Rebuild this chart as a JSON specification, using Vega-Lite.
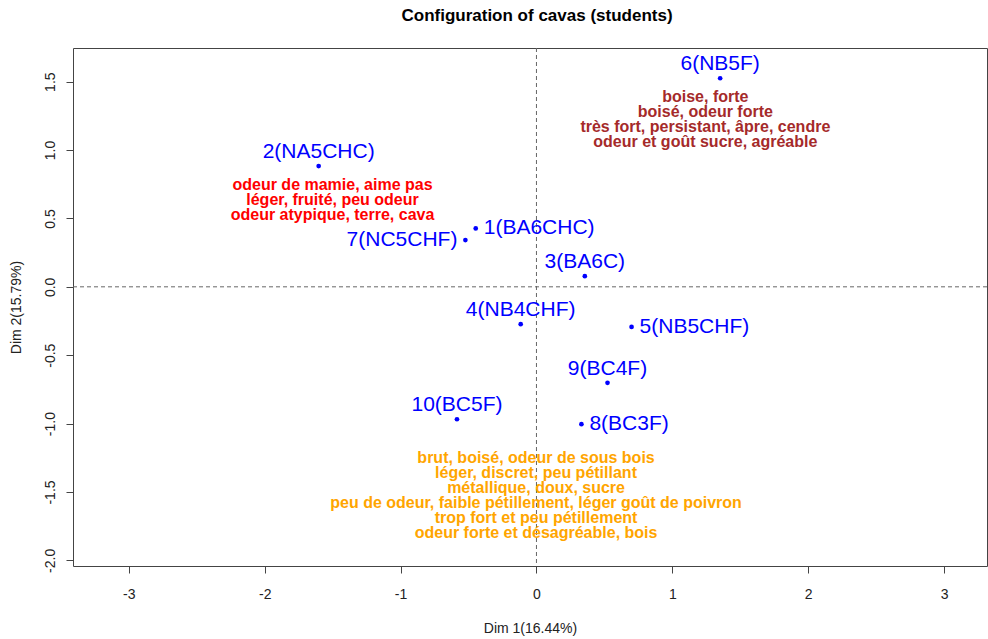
{
  "$schema": "https://vega.github.io/schema/vega-lite/v6.json",
  "width": 914,
  "height": 518,
  "autosize": {"type": "none"},
  "padding": {"left": 73, "top": 48, "right": 1, "bottom": 73},
  "background": "white",
  "title": {
    "text": "Configuration of cavas (students)",
    "fontSize": 17,
    "fontWeight": "bold",
    "font": "Liberation Sans",
    "color": "#000000",
    "anchor": "middle",
    "dx": 7,
    "offset": 23
  },
  "datasets": {
    "points": [
      {"x": -0.447, "y": 0.427, "label": "1(BA6CHC)", "pos": "right"},
      {"x": -1.603, "y": 0.883, "label": "2(NA5CHC)", "pos": "above"},
      {"x": 0.356, "y": 0.078, "label": "3(BA6C)", "pos": "above"},
      {"x": -0.116, "y": -0.273, "label": "4(NB4CHF)", "pos": "above"},
      {"x": 0.700, "y": -0.293, "label": "5(NB5CHF)", "pos": "right"},
      {"x": 1.352, "y": 1.525, "label": "6(NB5F)", "pos": "above"},
      {"x": -0.523, "y": 0.342, "label": "7(NC5CHF)", "pos": "left"},
      {"x": 0.331, "y": -1.004, "label": "8(BC3F)", "pos": "right"},
      {"x": 0.523, "y": -0.702, "label": "9(BC4F)", "pos": "above"},
      {"x": -0.585, "y": -0.968, "label": "10(BC5F)", "pos": "above"}
    ],
    "notes": [
      {"x": -1.501, "y": 0.744, "grp": "red", "text": "odeur de mamie, aime pas\nléger, fruité, peu odeur\nodeur atypique, terre, cava"},
      {"x": 1.243, "y": 1.385, "grp": "brown", "text": "boise, forte\nboisé, odeur forte\ntrès fort, persistant, âpre, cendre\nodeur et goût sucre, agréable"},
      {"x": -0.003, "y": -1.255, "grp": "orange", "text": "brut, boisé, odeur de sous bois\nléger, discret, peu pétillant\nmétallique, doux, sucre\npeu de odeur, faible pétillement, léger goût de poivron\ntrop fort et peu pétillement\nodeur forte et désagréable, bois"}
    ],
    "vzero": [{"x": 0}],
    "hzero": [{"y": 0}]
  },
  "layer": [
    {
      "data": {"name": "points"},
      "mark": {"type": "point", "filled": true, "size": 22, "color": "#0000FF", "opacity": 1},
      "encoding": {
        "x": {
          "field": "x", "type": "quantitative",
          "scale": {"domain": [-3.411, 3.316], "nice": false, "zero": false},
          "axis": {
            "title": "Dim 1(16.44%)",
            "values": [-3, -2, -1, 0, 1, 2, 3],
            "format": "d",
            "labelExpr": "replace(datum.label, '\u2212', '-')",
            "labelPadding": 14,
            "titlePadding": 20,
            "labelFlush": false,
            "labelOverlap": false
          }
        },
        "y": {
          "field": "y", "type": "quantitative",
          "scale": {"domain": [-2.041, 1.746], "nice": false, "zero": false},
          "axis": {
            "title": "Dim 2(15.79%)",
            "values": [-2, -1.5, -1, -0.5, 0, 0.5, 1, 1.5],
            "format": ".1f",
            "labelExpr": "replace(datum.label, '\u2212', '-')",
            "labelAngle": 270,
            "labelAlign": "center",
            "labelBaseline": "bottom",
            "labelPadding": 9,
            "titlePadding": 20,
            "labelFlush": false,
            "labelOverlap": false
          }
        }
      }
    },
    {
      "data": {"name": "vzero"},
      "mark": {"type": "rule", "color": "#666666", "strokeDash": [4, 3], "strokeWidth": 1},
      "encoding": {
        "x": {"field": "x", "type": "quantitative", "scale": {"domain": [-3.411, 3.316], "nice": false, "zero": false}}
      }
    },
    {
      "data": {"name": "hzero"},
      "mark": {"type": "rule", "color": "#666666", "strokeDash": [4, 3], "strokeWidth": 1},
      "encoding": {
        "y": {"field": "y", "type": "quantitative", "scale": {"domain": [-2.041, 1.746], "nice": false, "zero": false}}
      }
    },
    {
      "data": {"name": "points"},
      "transform": [{"filter": "datum.pos === 'above'"}],
      "mark": {"type": "text", "fontSize": 21, "font": "Liberation Sans", "color": "#0000FF", "align": "center", "baseline": "middle", "dy": -14},
      "encoding": {
        "x": {"field": "x", "type": "quantitative"},
        "y": {"field": "y", "type": "quantitative"},
        "text": {"field": "label", "type": "nominal"}
      }
    },
    {
      "data": {"name": "points"},
      "transform": [{"filter": "datum.pos === 'right'"}],
      "mark": {"type": "text", "fontSize": 21, "font": "Liberation Sans", "color": "#0000FF", "align": "left", "baseline": "middle", "dx": 8},
      "encoding": {
        "x": {"field": "x", "type": "quantitative"},
        "y": {"field": "y", "type": "quantitative"},
        "text": {"field": "label", "type": "nominal"}
      }
    },
    {
      "data": {"name": "points"},
      "transform": [{"filter": "datum.pos === 'left'"}],
      "mark": {"type": "text", "fontSize": 21, "font": "Liberation Sans", "color": "#0000FF", "align": "right", "baseline": "middle", "dx": -8},
      "encoding": {
        "x": {"field": "x", "type": "quantitative"},
        "y": {"field": "y", "type": "quantitative"},
        "text": {"field": "label", "type": "nominal"}
      }
    },
    {
      "data": {"name": "notes"},
      "mark": {"type": "text", "fontSize": 16, "fontWeight": "bold", "font": "Liberation Sans", "align": "center", "baseline": "middle", "lineBreak": "\n", "lineHeight": 15},
      "encoding": {
        "x": {"field": "x", "type": "quantitative"},
        "y": {"field": "y", "type": "quantitative"},
        "text": {"field": "text", "type": "nominal"},
        "color": {
          "field": "grp", "type": "nominal",
          "scale": {"domain": ["red", "brown", "orange"], "range": ["#FF0000", "#A52A2A", "#FFA500"]},
          "legend": null
        }
      }
    }
  ],
  "config": {
    "font": "Liberation Sans",
    "view": {"stroke": "#444444", "strokeWidth": 1},
    "axis": {
      "grid": false,
      "domain": false,
      "ticks": true,
      "tickColor": "#444444",
      "tickSize": 7,
      "labelColor": "#222222",
      "titleColor": "#222222",
      "labelFont": "Liberation Sans",
      "titleFont": "Liberation Sans",
      "labelFontSize": 14,
      "titleFontSize": 14,
      "titleFontWeight": "normal"
    }
  }
}
